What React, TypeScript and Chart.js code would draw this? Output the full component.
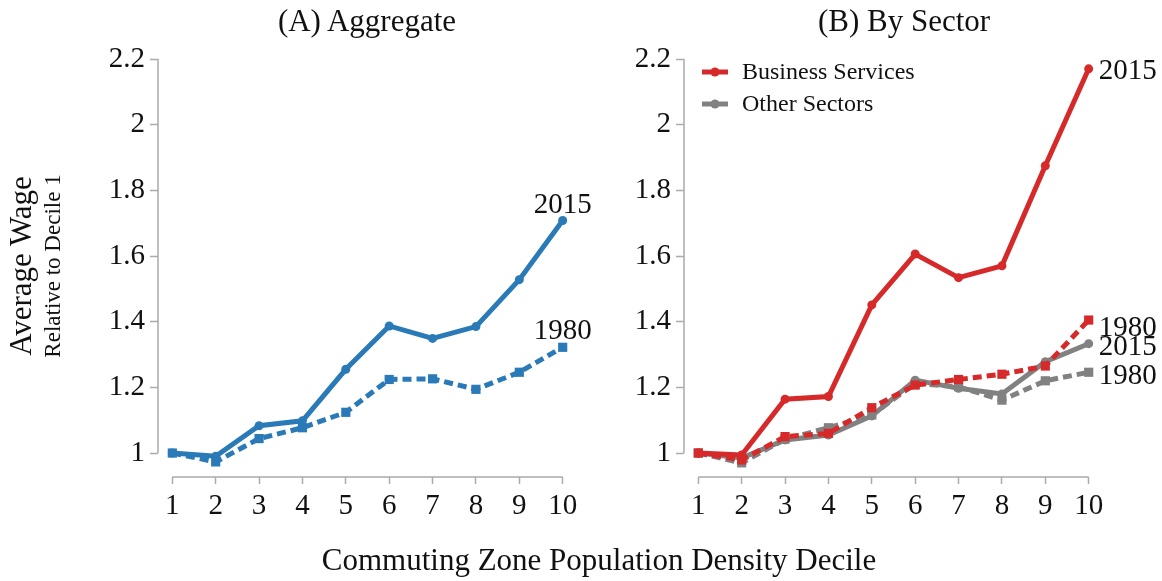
import React, { useEffect, useRef } from "react";
import { Chart, registerables } from "chart.js";

Chart.register(...registerables);

// ---------- data ----------
const deciles = [1, 2, 3, 4, 5, 6, 7, 8, 9, 10];
const xTickLabels = ["1", "2", "3", "4", "5", "6", "7", "8", "9", "10"];
const yTickValues = [1, 1.2, 1.4, 1.6, 1.8, 2, 2.2];
const yTickLabels = ["1", "1.2", "1.4", "1.6", "1.8", "2", "2.2"];

const aggregate2015 = [1.0, 0.99, 1.083, 1.098, 1.255, 1.387, 1.349, 1.385, 1.528, 1.708];
const aggregate1980 = [1.0, 0.973, 1.044, 1.077, 1.124, 1.224, 1.226, 1.194, 1.246, 1.322];
const business2015 = [1.0, 0.994, 1.164, 1.172, 1.451, 1.606, 1.534, 1.57, 1.875, 2.17];
const business1980 = [1.0, 0.979, 1.05, 1.06, 1.138, 1.207, 1.224, 1.24, 1.265, 1.405];
const other2015 = [1.0, 0.985, 1.04, 1.055, 1.113, 1.222, 1.197, 1.18, 1.278, 1.333];
const other1980 = [1.0, 0.97, 1.042, 1.077, 1.116, 1.212, 1.202, 1.161, 1.22, 1.246];

const legendLabels = ["Business Services", "Other Sectors"];

// ---------- styles ----------
const FONT = "'Liberation Serif', 'Times New Roman', serif";
const BLUE = "#2a7ab8";
const RED = "#d62a2a";
const GRAY = "#818181";
const AXIS = "#ababab";
const Y_MIN = 0.927;
const Y_MAX = 2.2;
const X_MIN = 0.67;
const X_MAX = 10.33;

const toPts = (arr: number[]) => deciles.map((d, i) => ({ x: d, y: arr[i] }));

function solid(label: string, arr: number[], color: string) {
  return {
    label,
    data: toPts(arr),
    borderColor: color,
    backgroundColor: color,
    borderWidth: 5,
    pointStyle: "circle",
    pointRadius: 4.5,
    pointBorderWidth: 0,
    pointBackgroundColor: color,
    tension: 0,
    clip: false as any,
  };
}
function dashed(label: string, arr: number[], color: string) {
  return {
    label,
    data: toPts(arr),
    borderColor: color,
    backgroundColor: color,
    borderWidth: 5,
    borderDash: [9, 5],
    pointStyle: "rect",
    pointRadius: 6.5,
    pointBorderWidth: 0,
    pointBackgroundColor: color,
    tension: 0,
    clip: false as any,
  };
}

const decorPlugin = {
  id: "decor",
  afterDatasetsDraw(chart: any, _args: any, opts: any) {
    const ctx = chart.ctx;
    const xs = chart.scales.x;
    const ys = chart.scales.y;
    const area = chart.chartArea;
    ctx.save();
    // axis lines (offset style)
    ctx.strokeStyle = AXIS;
    ctx.lineWidth = 1.5;
    ctx.beginPath();
    ctx.moveTo(area.left, ys.getPixelForValue(yTickValues[0]));
    ctx.lineTo(area.left, ys.getPixelForValue(yTickValues[yTickValues.length - 1]));
    ctx.moveTo(xs.getPixelForValue(deciles[0]), area.bottom);
    ctx.lineTo(xs.getPixelForValue(deciles[deciles.length - 1]), area.bottom);
    ctx.stroke();

    // end labels
    ctx.fillStyle = "#111";
    ctx.font = `29px ${FONT}`;
    (opts.labels || []).forEach((l: any) => {
      const meta = chart.getDatasetMeta(l.ds);
      const pt = meta.data[meta.data.length - 1];
      if (!pt) return;
      if (l.mode === "above") {
        ctx.textAlign = "center";
        ctx.textBaseline = "alphabetic";
        ctx.fillText(l.text, pt.x, pt.y - 8);
      } else {
        ctx.textAlign = "left";
        ctx.textBaseline = "middle";
        ctx.fillText(l.text, pt.x + 10, pt.y + l.dy);
      }
    });

    // legend
    if (opts.legend) {
      ctx.font = `24px ${FONT}`;
      ctx.textAlign = "left";
      ctx.textBaseline = "middle";
      opts.legend.forEach((e: any, i: number) => {
        const y = area.top + 13 + i * 32;
        const x0 = area.left + 18;
        ctx.strokeStyle = e.color;
        ctx.lineWidth = 5;
        ctx.setLineDash([]);
        ctx.beginPath();
        ctx.moveTo(x0, y);
        ctx.lineTo(x0 + 26, y);
        ctx.stroke();
        ctx.fillStyle = e.color;
        ctx.beginPath();
        ctx.arc(x0 + 13, y, 4.5, 0, Math.PI * 2);
        ctx.fill();
        ctx.fillStyle = "#111";
        ctx.fillText(e.text, x0 + 40, y + 1);
      });
    }
    ctx.restore();
  },
};

function makeConfig(datasets: any[], yWidth: number, padRight: number, decor: any) {
  return {
    type: "line" as const,
    data: { datasets },
    plugins: [decorPlugin],
    options: {
      responsive: false,
      animation: false as const,
      layout: { padding: { top: 59, left: 0, right: padRight, bottom: 0 } },
      plugins: {
        legend: { display: false },
        title: { display: false },
        tooltip: { enabled: false },
        decor,
      },
      scales: {
        x: {
          type: "linear" as const,
          min: X_MIN,
          max: X_MAX,
          afterBuildTicks: (s: any) => {
            s.ticks = deciles.map((v) => ({ value: v }));
          },
          afterFit: (s: any) => {
            s.height = 104;
          },
          ticks: {
            autoSkip: false,
            maxRotation: 0,
            padding: 5,
            color: "#111",
            font: { family: FONT, size: 29 },
            callback: (_v: any, i: number) => xTickLabels[i],
          },
          grid: {
            drawOnChartArea: false,
            drawTicks: true,
            tickLength: 7,
            tickWidth: 1.5,
            tickColor: AXIS,
          },
          border: { display: false },
        },
        y: {
          type: "linear" as const,
          min: Y_MIN,
          max: Y_MAX,
          afterBuildTicks: (s: any) => {
            s.ticks = yTickValues.map((v) => ({ value: v }));
          },
          afterFit: (s: any) => {
            s.width = yWidth;
          },
          ticks: {
            autoSkip: false,
            padding: 5,
            color: "#111",
            font: { family: FONT, size: 29 },
            callback: (_v: any, i: number) => yTickLabels[i],
          },
          grid: {
            drawOnChartArea: false,
            drawTicks: true,
            tickLength: 8,
            tickWidth: 1.5,
            tickColor: AXIS,
          },
          border: { display: false },
        },
      },
    },
  };
}

function Panel(props: { left: number; width: number; config: any }) {
  const ref = useRef<HTMLCanvasElement | null>(null);
  useEffect(() => {
    if (!ref.current) return;
    const chart = new Chart(ref.current, props.config);
    return () => chart.destroy();
  }, []);
  return (
    <div style={{ position: "absolute", left: props.left, top: 0, width: props.width, height: 581 }}>
      <canvas ref={ref} width={props.width} height={581} style={{ width: props.width, height: 581, display: "block" }} />
    </div>
  );
}

export default function App() {
  const leftConfig = makeConfig(
    [solid("2015", aggregate2015, BLUE), dashed("1980", aggregate1980, BLUE)],
    158,
    23,
    {
      labels: [
        { ds: 0, text: "2015", mode: "above", dy: 0 },
        { ds: 1, text: "1980", mode: "above", dy: 0 },
      ],
    }
  );
  const rightConfig = makeConfig(
    [
      solid("Business Services 2015", business2015, RED),
      dashed("Business Services 1980", business1980, RED),
      solid("Other Sectors 2015", other2015, GRAY),
      dashed("Other Sectors 1980", other1980, GRAY),
    ],
    84,
    59,
    {
      labels: [
        { ds: 0, text: "2015", mode: "right", dy: 3 },
        { ds: 1, text: "1980", mode: "right", dy: 8 },
        { ds: 2, text: "2015", mode: "right", dy: 4 },
        { ds: 3, text: "1980", mode: "right", dy: 4 },
      ],
      legend: [
        { text: legendLabels[0], color: RED },
        { text: legendLabels[1], color: GRAY },
      ],
    }
  );

  const textStyle: React.CSSProperties = {
    position: "absolute",
    fontFamily: FONT,
    color: "#111",
    whiteSpace: "nowrap",
    textAlign: "center",
  };

  return (
    <div style={{ position: "absolute", left: 0, top: 0, width: 1162, height: 581, background: "#fff", overflow: "hidden" }}>
      <Panel left={0} width={600} config={leftConfig} />
      <Panel left={600} width={562} config={rightConfig} />
      <div style={{ ...textStyle, left: 217, width: 300, top: 3, fontSize: 31, lineHeight: "36px" }}>(A) Aggregate</div>
      <div style={{ ...textStyle, left: 754, width: 300, top: 3, fontSize: 31, lineHeight: "36px" }}>(B) By Sector</div>
      <div style={{ ...textStyle, left: 299, width: 600, top: 542, fontSize: 31, lineHeight: "36px" }}>
        Commuting Zone Population Density Decile
      </div>
      <div
        style={{
          ...textStyle,
          left: 37 - 150,
          top: 266 - 32,
          width: 300,
          height: 64,
          transform: "rotate(-90deg)",
          transformOrigin: "150px 32px",
        }}
      >
        <div style={{ fontSize: 31, lineHeight: "32px" }}>Average Wage</div>
        <div style={{ fontSize: 23, lineHeight: "32px" }}>Relative to Decile 1</div>
      </div>
    </div>
  );
}
